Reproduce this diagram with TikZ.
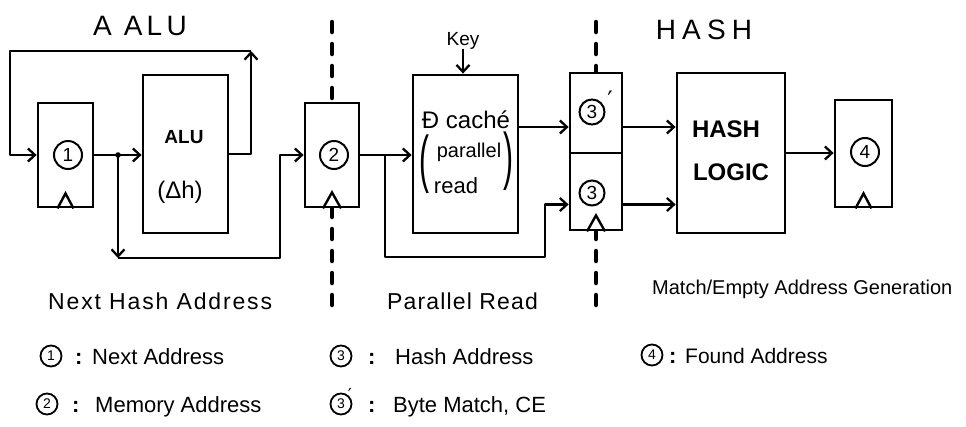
\documentclass[tikz,border=0pt]{standalone}
\usepackage{fontspec}
\setmainfont{Liberation Sans}
\newfontfamily\sym{DejaVu Sans}
\usetikzlibrary{arrows.meta}
\begin{document}
\begin{tikzpicture}[x=1pt,y=-1pt,
 reg/.style={draw, line width=2.8pt, inner sep=0pt},
 box/.style={draw, line width=2.8pt, inner sep=0pt},
 wire/.style={line width=2.3pt, line join=round},
 arr/.style={wire, -{Straight Barb[length=7pt,width=13pt]}},
 cut/.style={line width=4.5pt, dash pattern=on 10pt off 12pt, line cap=round},
 cnum/.style={circle, draw, line width=2pt, minimum size=28pt, inner sep=0pt, font=\fontsize{19}{19}\selectfont},
 lnum/.style={circle, draw, line width=1.8pt, minimum size=21pt, inner sep=0pt, font=\fontsize{14}{14}\selectfont},
 txt/.style={inner sep=0pt, anchor=base west},
 ctxt/.style={inner sep=0pt, anchor=base},
 clk/.style={line width=2.4pt, line join=miter}]
\useasboundingbox (0,0) rectangle (966,426);
\fill[white] (0,0) rectangle (966,426);

% titles
\node[ctxt, font=\fontsize{28}{28}\selectfont\addfontfeature{LetterSpace=15}] (tA) at (140,35) {A ALU};
\node[ctxt, font=\fontsize{28}{28}\selectfont\addfontfeature{LetterSpace=22}] (tH) at (704,39) {HASH};

% registers and boxes
\node[reg, minimum width=55pt, minimum height=104pt] (r1) at (65.5,155) {};
\node[cnum] (c1) at (68,155) {1};
\node[box, minimum width=85pt, minimum height=158pt] (alu) at (185.5,154) {};
\node[ctxt, font=\fontsize{19}{19}\selectfont\bfseries] (alut) at (184,143) {ALU};
\node[ctxt, font=\fontsize{24}{24}\selectfont] (dh) at (180,198) {(Δh)};

\node[reg, minimum width=54pt, minimum height=104pt] (r2) at (332,155) {};
\node[cnum] (c2) at (334,155) {2};

\node[box, minimum width=105pt, minimum height=158pt] (cache) at (465.5,154) {};
\node[ctxt, font=\fontsize{24}{24}\selectfont] (ct1) at (466,128) {Đ caché};
\node[ctxt, font=\fontsize{20}{20}\selectfont] (ct2) at (469,157) {parallel};
\node[ctxt, font=\fontsize{22}{22}\selectfont] (ct3) at (456,193) {read};
\node[inner sep=0pt] (lp) at (424,164) {\scalebox{1}[2.1]{\fontsize{30}{30}\selectfont(}};
\node[inner sep=0pt] (rp) at (508,161) {\scalebox{1}[2.1]{\fontsize{30}{30}\selectfont)}};
\node[ctxt, font=\fontsize{19}{19}\selectfont] (key) at (463,45) {Key};

\node[reg, minimum width=52pt, minimum height=80pt] (r3p) at (596,113) {};
\node[cnum, minimum size=25pt] (c3p) at (592,112) {3};
\node[inner sep=0pt, font=\sym\fontsize{24}{24}\selectfont] (pr1) at (610,100) {′};
\node[reg, minimum width=52pt, minimum height=77pt] (r3) at (596,191.5) {};
\node[cnum, minimum size=25pt] (c3) at (592,193) {3};

\node[box, minimum width=108pt, minimum height=160pt] (hash) at (731,153) {};
\node[ctxt, font=\fontsize{24}{24}\selectfont\bfseries] (ht1) at (726,137) {HASH};
\node[ctxt, font=\fontsize{24}{24}\selectfont\bfseries] (ht2) at (731,180) {LOGIC};

\node[reg, minimum width=57pt, minimum height=107pt] (r4) at (863.5,153.5) {};
\node[cnum] (c4) at (865,152) {4};

% clock wedges
\draw[clk] ([xshift=-8pt]r1.south) -- ([yshift=15pt]r1.south) -- ([xshift=8pt]r1.south);
\draw[clk] ([xshift=-9pt]r2.south) -- ([yshift=16pt]r2.south) -- ([xshift=9pt]r2.south);
\draw[clk] ([xshift=-9pt]r3.south) -- ([yshift=16pt]r3.south) -- ([xshift=9pt]r3.south);
\draw[clk] ([xshift=-8pt]r4.south) -- ([yshift=15pt]r4.south) -- ([xshift=8pt]r4.south);

% pipeline cuts
\coordinate (d1t) at (332,22);
\coordinate (d1b) at (332,305);
\coordinate (d2t) at (596,22);
\coordinate (d2b) at (596,305);
\draw[cut] (d1t) -- (r2.north);
\draw[cut] (d1b) -- (r2.south);
\draw[cut] (d2t) -- (r3p.north);
\draw[cut] (d2b) -- (r3.south);

% connectors
\coordinate (fbR) at (251,51);
\coordinate (fbL) at (10,51);
\draw[arr] (alu.east) -| (fbR);
\draw[arr] (fbR) -- (fbL) |- (r1.west);
\draw[arr] (r1.east) -- (r1.east -| alu.west);
\coordinate (j1) at (118,155);
\fill (j1) circle (2.8pt);
\coordinate (b1) at (118,258);
\coordinate (b1r) at (280,258);
\draw[arr] (j1) -- (b1);
\draw[arr] (b1) -- (b1r) |- (r2.west);

\draw[arr] (r2.east) -- (r2.east -| cache.west);
\coordinate (j2) at (385,155);
\coordinate (b2) at (385,257);
\coordinate (b2r) at (545,257);
\draw[arr] (j2) -- (b2) -- (b2r) |- ([yshift=-13pt]r3.west);

\draw[arr] (key.south) -- (key.south |- cache.north);
\draw[arr] ([yshift=27pt]cache.east) -- ([yshift=27pt]cache.east -| r3p.west);
\draw[arr] ([yshift=-14pt]r3p.east) -- ([yshift=-14pt]r3p.east -| hash.west);
\draw[arr] ([yshift=-13pt]r3.east) -- ([yshift=-13pt]r3.east -| hash.west);
\draw[arr] (hash.east) -- (hash.east -| r4.west);

% stage names
\node[txt, font=\fontsize{23}{23}\selectfont\addfontfeature{LetterSpace=8}] (s1) at (48,309) {Next Hash Address};
\node[txt, font=\fontsize{23}{23}\selectfont\addfontfeature{LetterSpace=5}] (s2) at (387,309) {Parallel Read};
\node[txt, font=\fontsize{20}{20}\selectfont] (s3) at (652,294) {Match/Empty Address Generation};

% legend
\node[lnum] (l1) at (51,356) {1};
\node[txt, font=\fontsize{22}{22}\selectfont\bfseries] (l1c) at (75,364) {:};
\node[txt, font=\fontsize{22}{22}\selectfont] (l1t) at (92,364) {Next Address};

\node[lnum] (l2) at (47,404) {2};
\node[txt, font=\fontsize{22}{22}\selectfont\bfseries] (l2c) at (72,412) {:};
\node[txt, font=\fontsize{22}{22}\selectfont] (l2t) at (95,412) {Memory Address};

\node[lnum] (l3) at (341,356) {3};
\node[txt, font=\fontsize{22}{22}\selectfont\bfseries] (l3c) at (368,364) {:};
\node[txt, font=\fontsize{22}{22}\selectfont] (l3t) at (395,364) {Hash Address};

\node[lnum] (l3p) at (341,404) {3};
\node[inner sep=0pt, font=\sym\fontsize{18}{18}\selectfont] (pr2) at (350,395) {′};
\node[txt, font=\fontsize{22}{22}\selectfont\bfseries] (l3pc) at (368,412) {:};
\node[txt, font=\fontsize{22}{22}\selectfont] (l3pt) at (393,412) {Byte Match, CE};

\node[lnum] (l4) at (652,355) {4};
\node[txt, font=\fontsize{22}{22}\selectfont\bfseries] (l4c) at (669,363) {:};
\node[txt, font=\fontsize{21}{21}\selectfont] (l4t) at (685,363) {Found Address};
\end{tikzpicture}
\end{document}
